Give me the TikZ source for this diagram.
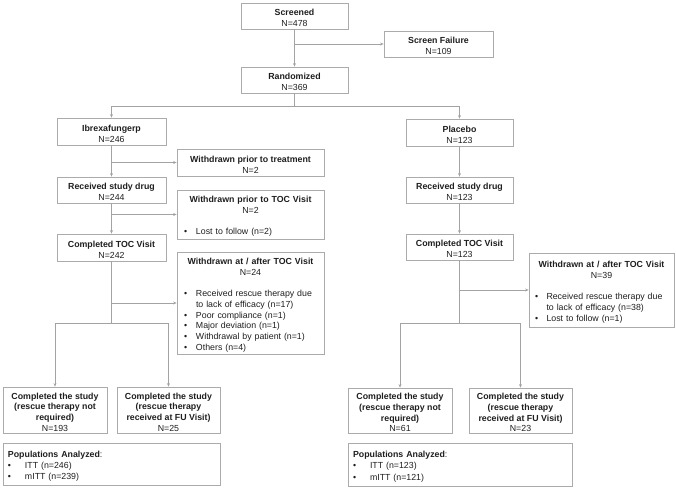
\documentclass[tikz,border=0pt]{standalone}
\usepackage{fontspec}
\setmainfont{Liberation Sans}
\usetikzlibrary{arrows.meta}
\definecolor{boxc}{HTML}{ABABAB}
\definecolor{linec}{HTML}{A3A3A3}
\definecolor{txtc}{HTML}{1E1E1E}
\newcommand\bitem[2][12pt]{\par\hangindent=#1\hangafter=1\noindent\makebox[#1][l]{\textbullet}#2}
\newcommand\T{\rule{0pt}{10.5pt}}
\begin{document}
\begin{tikzpicture}[x=1pt,y=-1pt,
  box/.style={draw=boxc,line width=0.8pt,rectangle,inner sep=0pt,align=center,text=txtc,
    font=\fontsize{8.8}{10.7}\selectfont},
  wbox/.style={draw=boxc,line width=0.8pt,rectangle,inner ysep=0pt,text=txtc,
    font=\fontsize{8.8}{10.7}\selectfont},
  conn/.style={draw=linec,line width=0.8pt},
  arr/.style={conn,-{Stealth[length=3.5pt,width=3pt]}},
]
\useasboundingbox (0,0) rectangle (676,488);
% top
\node[box,minimum width=107pt,minimum height=26pt] (scr) at (294.5,16) {\T\textbf{Screened}\\N=478};
\node[box,minimum width=109pt,minimum height=26pt] (sf) at (438.5,44) {\T\textbf{Screen Failure}\\N=109};
\node[box,minimum width=107pt,minimum height=26pt] (rand) at (294.5,80) {\T\textbf{Randomized}\\N=369};
% left arm
\node[box,minimum width=109pt,minimum height=27pt] (ibx) at (111.5,131.5) {\T\textbf{Ibrexafungerp}\\N=246};
\node[box,minimum width=147pt,minimum height=27pt] (wpt) at (250.5,162.5) {\T\textbf{Withdrawn prior to treatment}\\N=2};
\node[box,minimum width=109pt,minimum height=26pt] (rsdL) at (111.5,190) {\T\textbf{Received study drug}\\N=244};
\node[wbox,text width=133pt,inner xsep=7pt,minimum height=49pt] (wptoc) at (250.5,214.5)
  {{\centering\T\textbf{Withdrawn prior to TOC Visit}\\N=2\par}\vspace{10.7pt}\raggedright
   \bitem{Lost to follow (n=2)}};
\node[box,minimum width=109pt,minimum height=27pt] (ctocL) at (111.5,247.5) {\T\textbf{Completed TOC Visit}\\N=242};
\node[wbox,text width=133pt,inner xsep=7pt,minimum height=102pt] (watL) at (250.5,303)
  {{\centering\T\textbf{Withdrawn at / after TOC Visit}\\N=24\par}\vspace{10.7pt}\raggedright
   \bitem{Received rescue therapy due\newline to lack of efficacy (n=17)}
   \bitem{Poor compliance (n=1)}
   \bitem{Major deviation (n=1)}
   \bitem{Withdrawal by patient (n=1)}
   \bitem{Others (n=4)}};
\node[box,minimum width=104pt,minimum height=46pt] (c1L) at (55,410)
  {\T\textbf{Completed the study}\\\textbf{(rescue therapy not}\\\textbf{required)}\\N=193};
\node[box,minimum width=103pt,minimum height=46pt] (c2L) at (168.5,410)
  {\T\textbf{Completed the study}\\\textbf{(rescue therapy}\\\textbf{received at FU Visit)}\\N=25};
\node[wbox,text width=207pt,inner xsep=5pt,minimum height=42pt,font=\fontsize{8.8}{11.3}\selectfont] (popL) at (111.5,464)
  {\raggedright\noindent\T\textbf{Populations Analyzed}:\bitem[17pt]{ITT (n=246)}\bitem[17pt]{mITT (n=239)}};
% right arm
\node[box,minimum width=107pt,minimum height=27pt] (plc) at (459.5,132.5) {\T\textbf{Placebo}\\N=123};
\node[box,minimum width=107pt,minimum height=26pt] (rsdR) at (459.5,190) {\T\textbf{Received study drug}\\N=123};
\node[box,minimum width=107pt,minimum height=26pt] (ctocR) at (459.5,247) {\T\textbf{Completed TOC Visit}\\N=123};
\node[wbox,text width=133pt,inner xsep=6pt,minimum height=74pt] (watR) at (601.5,290)
  {{\centering\T\textbf{Withdrawn at / after TOC Visit}\\N=39\par}\vspace{10.7pt}\raggedright
   \bitem[11.5pt]{Received rescue therapy due\newline to lack of efficacy (n=38)}
   \bitem[11.5pt]{Lost to follow (n=1)}};
\node[box,minimum width=104pt,minimum height=45pt] (c1R) at (400,410.5)
  {\T\textbf{Completed the study}\\\textbf{(rescue therapy not}\\\textbf{required)}\\N=61};
\node[box,minimum width=103pt,minimum height=45pt] (c2R) at (520.5,410.5)
  {\T\textbf{Completed the study}\\\textbf{(rescue therapy}\\\textbf{received at FU Visit)}\\N=23};
\node[wbox,text width=214pt,inner xsep=5pt,minimum height=43pt,font=\fontsize{8.8}{11.3}\selectfont] (popR) at (460,464.5)
  {\raggedright\noindent\T\textbf{Populations Analyzed}:\bitem[17pt]{ITT (n=123)}\bitem[17pt]{mITT (n=121)}};
% connectors
\draw[arr] (scr) -- (rand);
\draw[arr] (scr.south |- sf.west) -- (sf.west);
\coordinate (jr) at (294.5,106);
\draw[conn] (rand.south) -- (jr);
\draw[arr] (jr) -| (ibx.north);
\draw[arr] (jr) -| (plc.north);
\draw[arr] (ibx) -- (rsdL);
\draw[arr] (ibx.south |- wpt.west) -- (wpt.west);
\draw[arr] (rsdL) -- (ctocL);
\draw[arr] (rsdL.south |- wptoc.west) -- (wptoc.west);
\coordinate (sL) at (111.5,323);
\draw[conn] (ctocL.south) -- (sL);
\draw[arr] (ctocL.south |- watL.west) -- (watL.west);
\draw[arr] (sL) -| (c1L.north);
\draw[arr] (sL) -| (c2L.north);
\draw[arr] (plc) -- (rsdR);
\draw[arr] (rsdR) -- (ctocR);
\coordinate (sR) at (459.5,323);
\draw[conn] (ctocR.south) -- (sR);
\draw[arr] (ctocR.south |- watR.west) -- (watR.west);
\draw[arr] (sR) -| (c1R.north);
\draw[arr] (sR) -| (c2R.north);
\end{tikzpicture}
\end{document}
